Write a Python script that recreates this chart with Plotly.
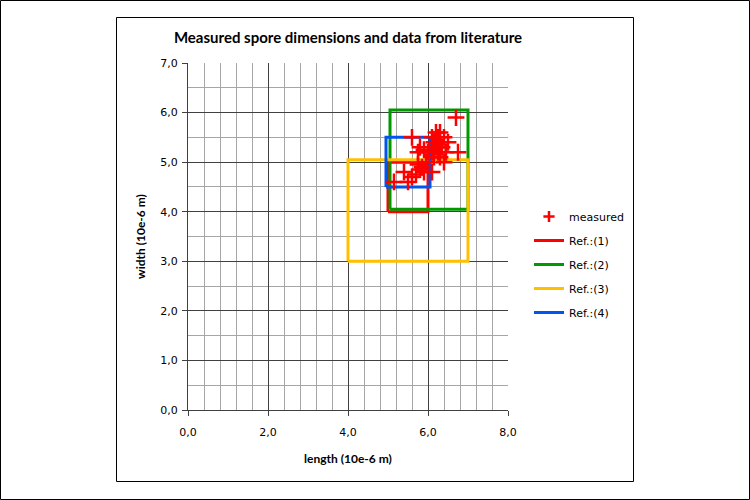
import plotly.graph_objects as go

# ---- data ----
measured_length = [6.70, 6.20, 6.30, 6.10, 6.25, 6.40, 6.15, 6.30, 6.50, 6.20, 6.35,
                   6.10, 6.25, 6.45, 6.30, 6.15, 6.75, 6.40, 5.60, 5.80, 5.75, 5.90,
                   6.00, 5.40, 5.15, 5.50, 5.70, 5.80, 5.85, 5.90, 6.10, 5.75, 5.95, 5.60]
measured_width = [5.90, 5.60, 5.60, 5.50, 5.50, 5.50, 5.40, 5.40, 5.40, 5.30, 5.30,
                  5.20, 5.20, 5.20, 5.10, 5.10, 5.20, 5.00, 5.50, 5.30, 5.20, 5.25,
                  5.20, 4.80, 4.60, 4.60, 4.75, 4.85, 4.90, 4.80, 4.80, 4.95, 5.00, 4.70]

ref_names = ["Ref.:(1)", "Ref.:(2)", "Ref.:(3)", "Ref.:(4)"]
ref_len_min = [5.0, 5.05, 4.0, 4.95]
ref_len_max = [6.0, 7.0, 7.0, 6.05]
ref_wid_min = [4.0, 4.05, 3.0, 4.5]
ref_wid_max = [5.0, 6.05, 5.05, 5.5]
ref_colors = ["#FF0000", "#009A00", "#FFC000", "#0055EE"]

# ---- layout constants (pixels) ----
W, H = 750, 500
PL, PR, PT, PB = 188, 508, 63, 410

fig = go.Figure()

for i, name in enumerate(ref_names):
    x0, x1 = ref_len_min[i], ref_len_max[i]
    y0, y1 = ref_wid_min[i], ref_wid_max[i]
    fig.add_trace(go.Scatter(
        x=[x0, x1, x1, x0, x0], y=[y0, y0, y1, y1, y0],
        mode="lines", name=name, legendgroup=name, legendrank=10 + i,
        line=dict(color=ref_colors[i], width=3),
    ))

# measured points (drawn on top); legend entry via a smaller-marker proxy
fig.add_trace(go.Scatter(
    x=measured_length, y=measured_width, mode="markers", name="measured",
    legendgroup="measured", showlegend=False,
    marker=dict(symbol="cross-thin", size=12, line=dict(color="#FF0000", width=2.5)),
))
fig.add_trace(go.Scatter(
    x=[None], y=[None], mode="markers", name="measured",
    legendgroup="measured", legendrank=1,
    marker=dict(symbol="cross-thin", size=8, line=dict(color="#FF0000", width=2.5)),
))

def px2paper_x(p):
    return (p - PL) / (PR - PL)

def px2paper_y(p):
    return (PB - p) / (PB - PT)

shapes = [
    dict(type="rect", xref="paper", yref="paper",
         x0=px2paper_x(0.5), x1=px2paper_x(W - 0.5),
         y0=px2paper_y(H - 0.5), y1=px2paper_y(0.5),
         line=dict(color="#000000", width=1), layer="below"),
    dict(type="rect", xref="paper", yref="paper",
         x0=px2paper_x(116.5), x1=px2paper_x(633.5),
         y0=px2paper_y(481.5), y1=px2paper_y(17.5),
         line=dict(color="#000000", width=1), layer="below"),
]

tick_font = dict(family="DejaVu Sans", size=11, color="#000000")
title_font = dict(family="Lato", size=12, color="#000000")

fig.update_layout(
    width=W, height=H,
    margin=dict(l=PL, r=W - PR, t=PT, b=H - PB, pad=0),
    paper_bgcolor="white", plot_bgcolor="white",
    separators=", ",
    shapes=shapes,
    title=dict(text="<b>Measured spore dimensions and data from literature</b>",
               font=dict(family="Lato", size=15, color="#000000"),
               x=0.5, xref="paper", xanchor="center",
               y=1 - 38 / H, yref="container", yanchor="middle"),
    showlegend=True,
    legend=dict(x=px2paper_x(529), xanchor="left",
                y=px2paper_y(202), yanchor="top",
                font=dict(family="DejaVu Sans", size=11, color="#000000"),
                tracegroupgap=5, bgcolor="rgba(0,0,0,0)"),
    xaxis=dict(range=[0, 8], dtick=2, tick0=0, tickformat=".1f",
               showgrid=True, gridcolor="#404040", gridwidth=1,
               minor=dict(dtick=0.4, showgrid=True, gridcolor="#A6A6A6", gridwidth=1),
               showline=True, linecolor="#404040", linewidth=1, mirror=False,
               ticks="outside", ticklen=5, tickcolor="#404040",
               ticklabelstandoff=7,
               tickfont=tick_font, zeroline=False,
               title=dict(text="<b>length (10e-6 m)</b>", font=title_font, standoff=16)),
    yaxis=dict(range=[0, 7], dtick=1, tick0=0, tickformat=".1f",
               showgrid=True, gridcolor="#404040", gridwidth=1,
               minor=dict(dtick=0.5, showgrid=True, gridcolor="#A6A6A6", gridwidth=1),
               showline=True, linecolor="#404040", linewidth=1, mirror=False,
               ticks="outside", ticklen=5, tickcolor="#404040",
               ticklabelstandoff=2,
               tickfont=tick_font, zeroline=False,
               title=dict(text="<b>width (10e-6 m)</b>", font=title_font, standoff=12)),
)

fig.write_html("out.html")
